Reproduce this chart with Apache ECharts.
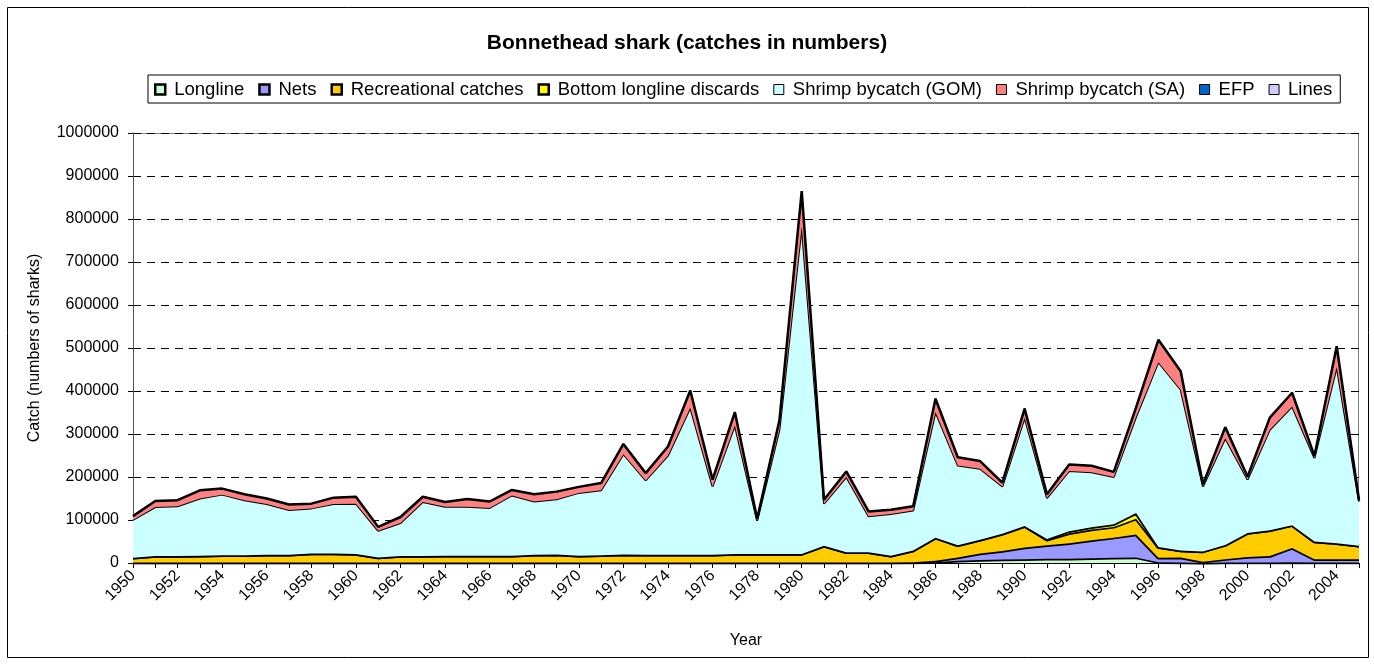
<!DOCTYPE html>
<html>
<head>
<meta charset="utf-8">
<script src="https://cdn.jsdelivr.net/npm/echarts@6/dist/echarts.min.js"></script>
<style>
html,body{margin:0;padding:0;background:#fff;}
#chart{width:1374px;height:664px;}
</style>
</head>
<body>
<div id="chart"></div>
<script>
const years = [];
for (let y = 1950; y <= 2005; y++) years.push(String(y));

// values in numbers of sharks
const longline = [1000,1000,1000,1000,1000,1000,1000,1000,1000,1000,1000,1000,1000,1000,1000,1000,1000,1000,1000,1000,1000,1000,1000,1000,1000,1000,1000,1000,1000,1000,1000,1000,1000,1000,1000,1000,2000,5000,7000,8000,9000,10000,10000,11000,12000,13000,2000,1000,0,1000,1000,1000,2000,1000,1000,1000];
const nets = [0,0,0,0,0,0,0,0,0,0,0,0,0,0,0,0,0,0,0,0,0,0,0,0,0,0,0,0,0,0,0,0,0,0,0,1000,3000,8000,15000,20000,27000,31000,36000,42000,47000,53000,10000,12000,3000,8000,13000,15000,33000,8000,8000,8000];
const recreational = [11000,15000,15000,16000,17000,17000,18000,18000,21000,21000,20000,12000,15000,15000,16000,16000,16000,16000,18000,19000,16000,17000,19000,18000,18000,18000,18000,20000,20000,20000,20000,39000,24000,24000,16000,27000,54000,28000,32000,40000,50000,13000,23000,25000,25000,37000,25000,16000,24000,33000,56000,60000,53000,41000,37000,31000];
const bllDiscards = [0,0,0,0,0,0,0,0,0,0,0,0,0,0,0,0,0,0,0,0,0,0,0,0,0,0,0,0,0,0,0,0,0,0,0,0,0,0,0,0,0,2000,5000,5000,6000,13000,0,0,0,0,0,0,0,0,0,0];
const shrimpGOM = [88000,114000,116000,133000,141000,128000,118000,104000,105000,115000,117000,62000,77000,126000,114000,114000,111000,140000,124000,128000,146000,151000,233000,173000,231000,342000,159000,299000,77000,289000,762000,98000,175000,84000,97000,93000,292000,186000,165000,110000,252000,95000,140000,128000,110000,224000,430000,374000,151000,248000,124000,234000,276000,194000,410000,103000];
const shrimpSA = [9000,14000,14000,19000,14000,14000,13000,13000,11000,15000,16000,9000,14000,12000,11000,18000,15000,13000,17000,18000,14000,17000,24000,17000,21000,40000,16000,31000,5000,22000,82000,9000,13000,11000,10000,10000,31000,19000,18000,9000,21000,9000,15000,15000,12000,22000,52000,43000,5000,26000,7000,28000,32000,5000,48000,4000];
const efp = years.map(() => 0);
const lines = years.map(() => 0);

const yTicks = [0,100000,200000,300000,400000,500000,600000,700000,800000,900000,1000000];

const defs = [
  {name:'Longline', data:longline, color:'#CCFFCC', lw:3.5, heavy:true},
  {name:'Nets', data:nets, color:'#9999FF', lw:3.5, heavy:true},
  {name:'Recreational catches', data:recreational, color:'#FFCC00', lw:3.5, heavy:true},
  {name:'Bottom longline discards', data:bllDiscards, color:'#FFFF00', lw:3.5, heavy:true},
  {name:'Shrimp bycatch (GOM)', data:shrimpGOM, color:'#CCFFFF', lw:2, heavy:false},
  {name:'Shrimp bycatch (SA)', data:shrimpSA, color:'#FF8080', lw:2.5, heavy:false},
  {name:'EFP', data:efp, color:'#0066CC', lw:1, heavy:false},
  {name:'Lines', data:lines, color:'#CCCCFF', lw:1, heavy:false}
];

const FONT = '"Liberation Sans", Arial, sans-serif';
const chart = echarts.init(document.getElementById('chart'));
chart.setOption({
  animation:false,
  backgroundColor:'#fff',
  textStyle:{fontFamily:FONT},
  graphic:[
    {type:'rect', shape:{x:7.5,y:7.5,width:1361,height:650}, style:{fill:null, stroke:'#000', lineWidth:1}, z:-1},
    {type:'rect', shape:{x:133.5,y:133.5,width:1225,height:429}, style:{fill:null, stroke:'#808080', lineWidth:1}, z:-1}
  ],
  title:{
    text:'Bonnethead shark (catches in numbers)',
    left:'center', top:28,
    textStyle:{fontFamily:FONT, fontSize:21, fontWeight:'bold', color:'#000'}
  },
  legend:{
    left:148, top:75,
    width:1220,
    icon:'rect', itemWidth:10, itemHeight:10, itemGap:14,
    borderColor:'#000', borderWidth:1, padding:[5,8,4,6],
    textStyle:{fontFamily:FONT, fontSize:18.5, color:'#000', padding:[0,0,0,4]},
    data: defs.map(d => ({name:d.name, itemStyle:{borderColor:'#000', borderWidth: d.heavy?2.5:1}}))
  },
  grid:{left:133, right:15, top:133, bottom:101},
  xAxis:{
    type:'category', data:years, boundaryGap:false,
    name:'Year', nameLocation:'middle', nameGap:70,
    nameTextStyle:{fontFamily:FONT, fontSize:16, color:'#000'},
    axisLine:{lineStyle:{color:'#000', width:1}},
    axisTick:{show:true, interval:0, length:5, lineStyle:{color:'#000'}},
    axisLabel:{interval:1, rotate:45, fontFamily:FONT, fontSize:16, color:'#000', margin:10},
    splitLine:{show:false}
  },
  yAxis:{
    type:'value', min:0, max:1000000, interval:100000,
    name:'Catch (numbers of sharks)', nameLocation:'middle', nameGap:90,
    nameTextStyle:{fontFamily:FONT, fontSize:16, color:'#000'},
    axisLine:{show:true, lineStyle:{color:'#555', width:1}},
    axisTick:{show:true, length:5, lineStyle:{color:'#000'}},
    axisLabel:{fontFamily:FONT, fontSize:16, color:'#000', margin:14,
      formatter: v => yTicks.includes(v) ? String(v) : ''},
    splitLine:{show:true, lineStyle:{color:'#000', type:[8,6], width:1}}
  },
  series: defs.map((d, i) => ({
    name:d.name, type:'line', stack:'total', data:d.data,
    symbol:'none', smooth:false,
    lineStyle:{color:'#000', width:d.lw},
    itemStyle:{color:d.color},
    areaStyle:{color:d.color, opacity:1},
    z: 2 + i
  }))
});
</script>
</body>
</html>
